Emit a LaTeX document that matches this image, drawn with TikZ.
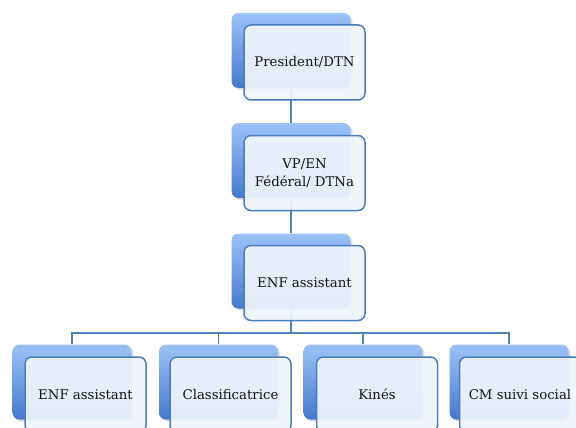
\documentclass[tikz,border=0pt]{standalone}
\usepackage{fontspec}
\setmainfont{DejaVu Serif}
\usetikzlibrary{shadows}
\definecolor{backtop}{HTML}{9CC2F7}
\definecolor{backbot}{HTML}{4679CC}
\definecolor{edgeblue}{HTML}{4A7DBF}
\definecolor{frontfill}{HTML}{F0F5FC}
\definecolor{linkblue}{HTML}{4F81BD}
\begin{document}
\begin{tikzpicture}[x=1pt,y=-1pt,
  backbox/.style={rectangle,rounded corners=7pt,minimum width=119pt,minimum height=75pt,
    top color=backtop,bottom color=backbot,draw=none,inner sep=0pt,
    drop shadow={shadow xshift=2pt,shadow yshift=-2pt,opacity=0.25}},
  frontbox/.style={rectangle,rounded corners=7pt,minimum width=121pt,minimum height=75pt,
    fill=frontfill,fill opacity=0.92,text opacity=1,draw=edgeblue,line width=1.5pt,
    inner sep=0pt,align=center,font=\fontsize{13.3}{18}\selectfont,text=black!92},
  link/.style={draw=linkblue,line width=1.5pt}]
\useasboundingbox (0,0) rectangle (576,428);
% back boxes
\node[backbox] (b1) at (291,50.5) {};
\node[backbox] (b2) at (291,160.5) {};
\node[backbox] (b3) at (291,271) {};
\node[backbox] (c1) at (72,382) {};
\node[backbox] (c2) at (218.5,382) {};
\node[backbox] (c3) at (363,382) {};
\node[backbox] (c4) at (509,382) {};
% connectors
\coordinate (bus) at (291,333);
\draw[link] (b1.south) -- (b2.north);
\draw[link] (b2.south) -- (b3.north);
\foreach \c in {c1,c2,c3,c4}
  \draw[link] (b3.south) -- (b3.south |- bus) -| (\c.north);
% front boxes
\node[frontbox] (f1) at (304.5,62.5) {President/DTN};
\node[frontbox] (f2) at (304.5,173) {VP/EN\\Fédéral/ DTNa};
\node[frontbox] (f3) at (304.5,283) {ENF assistant};
\node[frontbox] (g1) at (85.5,394.5) {ENF assistant};
\node[frontbox] (g2) at (230.5,394.5) {Classificatrice};
\node[frontbox] (g3) at (377,394.5) {Kinés};
\node[frontbox] (g4) at (520,394.5) {CM suivi social};
\end{tikzpicture}
\end{document}
